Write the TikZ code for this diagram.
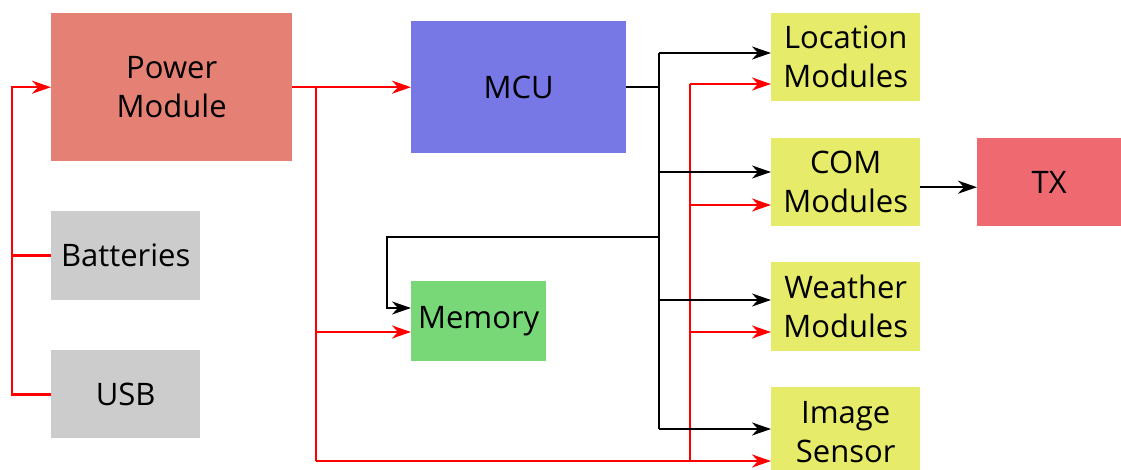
\documentclass[tikz,border=0pt]{standalone}
\usepackage{fontspec}
\setmainfont{Open Sans}
\usetikzlibrary{arrows.meta,calc}
\definecolor{pmc}{HTML}{E48174}
\definecolor{grc}{HTML}{CCCCCC}
\definecolor{mcuc}{HTML}{7777E6}
\definecolor{memc}{HTML}{78D878}
\definecolor{yelc}{HTML}{E6EB6A}
\definecolor{txc}{HTML}{EE6A70}
\tikzset{
  box/.style={anchor=north west, inner sep=0pt, align=center, draw=none,
    font=\fontsize{31}{39}\selectfont},
  redline/.style={draw=red, line width=2.6pt},
  blkline/.style={draw=black, line width=2.6pt},
  tip/.style={-{Stealth[length=19pt,width=13pt,inset=6pt]}},
}
\begin{document}
\begin{tikzpicture}[x=1pt,y=-1pt]
\useasboundingbox (0,0) rectangle (1121,470);
% boxes
\node[box, fill=pmc, minimum width=241pt, minimum height=148pt] (pm) at (51,13) {Power\\Module};
\node[box, fill=grc, minimum width=149pt, minimum height=89pt] (bat) at (51,211) {Batteries};
\node[box, fill=grc, minimum width=149pt, minimum height=88pt] (usb) at (51,350) {USB};
\node[box, fill=mcuc, minimum width=215pt, minimum height=132pt] (mcu) at (411,21) {MCU};
\node[box, fill=memc, minimum width=135pt, minimum height=80pt] (mem) at (411,281) {Memory};
\node[box, fill=yelc, minimum width=149pt, minimum height=88pt] (loc) at (771,13) {Location\\Modules};
\node[box, fill=yelc, minimum width=149pt, minimum height=88pt] (com) at (771,138) {COM\\Modules};
\node[box, fill=yelc, minimum width=149pt, minimum height=89pt] (wea) at (771,262) {Weather\\Modules};
\node[box, fill=yelc, minimum width=149pt, minimum height=90pt] (img) at (771,387) {Image\\Sensor};
\node[box, fill=txc, minimum width=144pt, minimum height=88pt] (tx) at (977,138) {TX};
% red power lines
\draw[redline] (bat.west) -- ++(-39,0);
\draw[redline, tip] (usb.west) -- ++(-39,0) |- (pm.west);
\draw[redline, tip] (pm.east) -- (mcu.west);
\coordinate (rj) at (316,87);
\coordinate (rm) at (316,332);
\coordinate (rb) at (316,461);
\draw[redline, tip] (rj) -- (rm) -- (mem.west |- rm);
\draw[redline] (rm) -- (rb);
\draw[redline, tip] (rb) -- (img.west |- rb);
\coordinate (rv) at (690,84);
\coordinate (rvb) at (690,461);
\coordinate (rc) at (690,205);
\coordinate (rw) at (690,332);
\draw[redline] (rv) -- (rvb);
\draw[redline, tip] (rv) -- (loc.west |- rv);
\draw[redline, tip] (rc) -- (com.west |- rc);
\draw[redline, tip] (rw) -- (wea.west |- rw);
% black data lines
\coordinate (bt) at (659,53);
\coordinate (bb) at (659,429);
\coordinate (bc) at (659,172);
\coordinate (bw) at (659,300);
\coordinate (bm) at (659,237);
\coordinate (bm2) at (387,237);
\coordinate (bm3) at (387,308);
\coordinate (bj) at (mcu.east -| bt);
\draw[blkline] (mcu.east) -- (bj);
\draw[blkline] (bt) -- (bb);
\draw[blkline, tip] (bt) -- (loc.west |- bt);
\draw[blkline, tip] (bc) -- (com.west |- bc);
\draw[blkline, tip] (bw) -- (wea.west |- bw);
\draw[blkline, tip] (bb) -- (img.west |- bb);
\draw[blkline, tip] (bm) -- (bm2) -- (bm3) -- (mem.west |- bm3);
\draw[blkline, tip] ([yshift=-5pt]com.east) -- ([yshift=-5pt]tx.west);
\end{tikzpicture}
\end{document}
